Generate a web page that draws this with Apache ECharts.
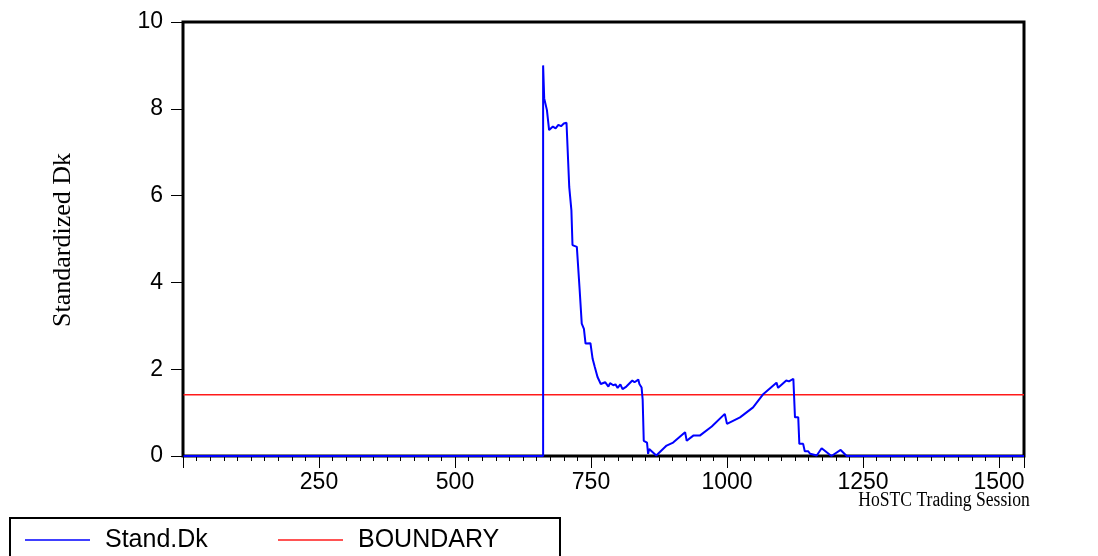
<!DOCTYPE html>
<html>
<head>
<meta charset="utf-8">
<title>Standardized Dk</title>
<script src="https://cdn.jsdelivr.net/npm/echarts@6/dist/echarts.min.js"></script>
<style>
  html, body { margin: 0; padding: 0; background: #fff; }
  #main { width: 1098px; height: 556px; }
</style>
</head>
<body>
<div id="main"></div>
<script>
// trading session index and the standardized Dk read at that session
var sessions = [1, 662, 662, 664, 669, 673, 680, 685, 690, 695, 700, 705, 708, 710, 714, 716, 724, 729, 733, 737,
  740, 749, 753, 757, 762, 768, 776, 782, 785, 791, 795, 799, 804, 808, 815, 826, 830, 837, 839, 843,
  845, 847, 853, 855, 857, 870, 889, 901, 923, 926, 938, 950, 972, 996, 1000, 1024, 1048, 1067, 1091, 1094,
  1109, 1114, 1122, 1125, 1131, 1133, 1140, 1143, 1149, 1153, 1165, 1174, 1192, 1209, 1220, 1546]
var standDk = [0, 0, 9.0, 8.24, 7.97, 7.51, 7.59, 7.55, 7.63, 7.60, 7.66, 7.68, 7.67, 6.2, 5.66, 4.86, 4.82, 3.86, 3.05, 2.93,
  2.59, 2.60, 2.24, 2.05, 1.82, 1.66, 1.70, 1.60, 1.68, 1.63, 1.65, 1.57, 1.65, 1.54, 1.60, 1.74, 1.70, 1.76, 1.66, 1.58,
  1.30, 0.35, 0.31, 0.05, 0.16, 0.01, 0.24, 0.31, 0.55, 0.35, 0.47, 0.47, 0.68, 0.97, 0.74, 0.89, 1.12, 1.43, 1.69, 1.57,
  1.74, 1.72, 1.78, 0.89, 0.89, 0.28, 0.28, 0.11, 0.11, 0.05, 0.01, 0.18, 0, 0.14, 0, 0]
var boundary = 1.41
var firstSession = 1
var lastSession = 1546
var xTicks = [250, 500, 750, 1000, 1250, 1500]
var yTicks = [0, 2, 4, 6, 8, 10]

var dkData = sessions.map(function(s, i) { return [s, standDk[i]] })
var boundaryData = [[firstSession, boundary], [lastSession, boundary]]

var chart = echarts.init(document.getElementById('main'))
chart.setOption({
  animation: false,
  grid: {
    left: 183,
    right: 74,
    top: 22,
    bottom: 100,
    show: true,
    borderColor: '#000',
    borderWidth: 3,
    backgroundColor: '#fff'
  },
  legend: {
    left: 10,
    top: 518,
    orient: 'horizontal',
    padding: [9, 15, 20, 15],
    borderColor: '#000',
    borderWidth: 2,
    itemWidth: 65,
    itemHeight: 14,
    itemGap: 15,
    icon: 'path://M0,0 L65,0 L65,1.5 L0,1.5 Z',
    textStyle: {
      fontFamily: 'Liberation Sans',
      fontSize: 25,
      color: '#000',
      lineHeight: 26,
      padding: [0, 0, 0, 10]
    },
    data: [
      { name: 'Stand.Dk', textStyle: { width: 158 } },
      { name: 'BOUNDARY', textStyle: { width: 187 } }
    ]
  },
  xAxis: {
    type: 'value',
    min: 0,
    max: lastSession,
    interval: 250,
    axisLine: { show: false },
    axisTick: { show: true, length: 12, lineStyle: { color: '#000', width: 1 } },
    minorTick: { show: true, splitNumber: 10, length: 5, lineStyle: { color: '#000', width: 1 } },
    splitLine: { show: false },
    axisLabel: {
      margin: 15,
      fontFamily: 'Liberation Sans',
      fontSize: 23,
      color: '#000',
      formatter: function(v) { return xTicks.indexOf(v) >= 0 ? String(v) : '' }
    }
  },
  yAxis: {
    type: 'value',
    min: 0,
    max: 10,
    interval: 2,
    axisLine: { show: false },
    axisTick: { show: true, length: 12, lineStyle: { color: '#000', width: 1 } },
    splitLine: { show: false },
    axisLabel: {
      margin: 20,
      fontFamily: 'Liberation Sans',
      fontSize: 23,
      color: '#000',
      formatter: function(v) { return yTicks.indexOf(v) >= 0 ? String(v) : '' }
    }
  },
  graphic: [
    {
      type: 'text',
      x: 63,
      y: 240,
      rotation: Math.PI / 2,
      style: {
        text: 'Standardized Dk',
        font: '26px "Liberation Serif"',
        fill: '#000',
        textAlign: 'center',
        textVerticalAlign: 'middle'
      }
    },
    {
      type: 'text',
      x: 944,
      y: 501,
      scaleX: 0.88,
      style: {
        text: 'HoSTC Trading Session',
        font: '20px "Liberation Serif"',
        fill: '#000',
        textAlign: 'center',
        textVerticalAlign: 'middle'
      }
    }
  ],
  series: [
    {
      name: 'Stand.Dk',
      type: 'line',
      data: dkData,
      symbol: 'none',
      clip: false,
      lineStyle: { color: '#0000ff', width: 2 },
      itemStyle: { color: '#0000ff' },
      z: 3
    },
    {
      name: 'BOUNDARY',
      type: 'line',
      data: boundaryData,
      symbol: 'none',
      lineStyle: { color: '#ff1a1a', width: 1.5 },
      itemStyle: { color: '#ff1a1a' },
      z: 2
    }
  ]
})
</script>
</body>
</html>
